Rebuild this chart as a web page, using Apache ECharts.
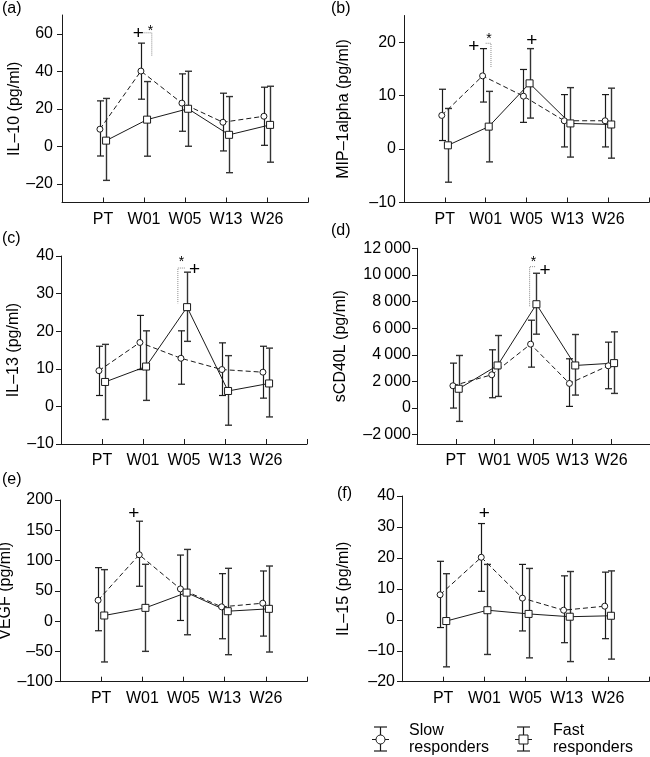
<!DOCTYPE html>
<html><head><meta charset="utf-8">
<script src="https://cdn.jsdelivr.net/npm/echarts@6/dist/echarts.min.js"></script>
<style>html,body{margin:0;padding:0;background:#fff}#c{width:650px;height:757px}</style>
</head><body><div id="c"></div>
<script>
const categories = ['PT', 'W01', 'W05', 'W13', 'W26'];

// (a) IL-10
const il10SlowMean = [9.1, 40.1, 23.0, 12.8, 16.0];
const il10SlowLow  = [-5.2, 25.1, 8.0, -2.5, 0.5];
const il10SlowHigh = [24.2, 55.0, 38.6, 28.3, 31.5];
const il10FastMean = [3.0, 14.2, 20.0, 6.1, 11.4];
const il10FastLow  = [-18.2, -5.3, 0.0, -14.1, -8.5];
const il10FastHigh = [25.5, 34.5, 40.0, 26.5, 32.0];
const il10Ticks = [-20, 0, 20, 40, 60];

// (b) MIP-1alpha
const mipSlowMean = [6.3, 13.7, 9.9, 5.3, 5.3];
const mipSlowLow  = [1.6, 8.8, 5.0, 0.4, 0.4];
const mipSlowHigh = [11.2, 18.8, 14.9, 10.2, 10.2];
const mipFastMean = [0.7, 4.2, 12.3, 4.8, 4.6];
const mipFastLow  = [-6.2, -2.4, 5.8, -1.5, -1.7];
const mipFastHigh = [7.6, 10.8, 18.8, 11.5, 11.4];
const mipTicks = [-10, 0, 10, 20];

// (c) IL-13
const il13SlowMean = [9.5, 17.0, 12.8, 9.8, 9.1];
const il13SlowLow  = [2.9, 9.8, 5.9, 2.9, 2.2];
const il13SlowHigh = [16.0, 24.2, 20.1, 16.9, 16.0];
const il13FastMean = [6.5, 10.6, 26.4, 4.1, 6.1];
const il13FastLow  = [-3.5, 1.6, 17.3, -5.0, -2.8];
const il13FastHigh = [16.5, 20.1, 35.7, 13.5, 15.5];
const il13Ticks = [-10, 0, 10, 20, 30, 40];

// (d) sCD40L
const cd40SlowMean = [1675, 2500, 4800, 1850, 3175];
const cd40SlowLow  = [0, 775, 3075, 125, 1450];
const cd40SlowHigh = [3375, 4375, 6600, 3700, 4950];
const cd40FastMean = [1450, 3200, 7800, 3200, 3375];
const cd40FastLow  = [-1000, 875, 5550, 975, 1100];
const cd40FastHigh = [3950, 5450, 10125, 5525, 5725];
const cd40Ticks = [-2000, 0, 2000, 4000, 6000, 8000, 10000, 12000];

// (e) VEGF
const vegfSlowMean = [34.5, 109.6, 53.2, 23.6, 29.6];
const vegfSlowLow  = [-15.9, 57.6, 1.1, -29.1, -24.7];
const vegfSlowHigh = [88.3, 165.0, 109.1, 78.4, 82.8];
const vegfFastMean = [9.3, 21.9, 47.1, 16.4, 20.3];
const vegfFastLow  = [-67.4, -49.9, -22.5, -55.4, -51.0];
const vegfFastHigh = [85.0, 93.8, 118.4, 87.2, 91.0];
const vegfTicks = [-100, -50, 0, 50, 100, 150, 200];

// (f) IL-15
const il15SlowMean = [8.1, 20.2, 7.0, 3.1, 4.4];
const il15SlowLow  = [-2.5, 9.2, -3.6, -7.4, -6.1];
const il15SlowHigh = [18.9, 31.1, 17.9, 14.2, 15.4];
const il15FastMean = [-0.4, 3.1, 1.9, 1.0, 1.3];
const il15FastLow  = [-15.2, -11.2, -12.3, -13.5, -12.7];
const il15FastHigh = [14.9, 17.9, 16.6, 15.6, 15.8];
const il15Ticks = [-20, -10, 0, 10, 20, 30, 40];

// significance marks: [category, offset, value, text]
const il10Signs = [['W01', -0.14, 60.5, '+'], ['W01', 0.16, 63.5, '*']];
const mipSigns  = [['W01', -0.29, 19.2, '+'], ['W01', 0.08, 21.3, '*'], ['W05', 0.13, 20.3, '+']];
const il13Signs = [['W05', -0.06, 39.3, '*'], ['W05', 0.26, 36.4, '+']];
const cd40Signs = [['W05', 0.0, 11250, '*'], ['W05', 0.3, 10375, '+']];
const vegfSigns = [['W01', -0.21, 178, '+']];
const il15Signs = [['W01', 0.0, 34.4, '+']];
// dotted brackets: [category, [dx, value] ...]
const il10Brackets = [['W01', [-0.01, 60.5], [0.19, 60.5], [0.19, 48]]];
const mipBrackets  = [['W01', [0.0, 19.8], [0.13, 19.8], [0.13, 15.2]]];
const il13Brackets = [['W05', [0.02, 36.8], [-0.15, 36.8], [-0.15, 27.4]]];
const cd40Brackets = [['W05', [0.04, 10620], [-0.1, 10620], [-0.1, 7620]]];

const panels = [
  {label: '(a)', name: 'IL\u201310 (pg/ml)', min: -30, max: 70, ticks: il10Ticks,
   slow: [il10SlowMean, il10SlowLow, il10SlowHigh], fast: [il10FastMean, il10FastLow, il10FastHigh],
   signs: il10Signs, brackets: il10Brackets,
   grid: {left: 62, top: 15, width: 246, height: 187.5}, nameGap: 38, labelMargin: 9, lx: 2, ly: 1},
  {label: '(b)', name: 'MIP\u20131alpha (pg/ml)', min: -10, max: 25, ticks: mipTicks,
   slow: [mipSlowMean, mipSlowLow, mipSlowHigh], fast: [mipFastMean, mipFastLow, mipFastHigh],
   signs: mipSigns, brackets: mipBrackets,
   grid: {left: 404, top: 15.5, width: 245, height: 187}, nameGap: 52, labelMargin: 8, lx: 331, ly: 1},
  {label: '(c)', name: 'IL\u201313 (pg/ml)', min: -10, max: 40, ticks: il13Ticks,
   slow: [il13SlowMean, il13SlowLow, il13SlowHigh], fast: [il13FastMean, il13FastLow, il13FastHigh],
   signs: il13Signs, brackets: il13Brackets,
   grid: {left: 61, top: 256, width: 246, height: 188}, nameGap: 39, labelMargin: 7, lx: 2, ly: 231},
  {label: '(d)', name: 'sCD40L (pg/ml)', min: -2700, max: 12000, ticks: cd40Ticks,
   slow: [cd40SlowMean, cd40SlowLow, cd40SlowHigh], fast: [cd40FastMean, cd40FastLow, cd40FastHigh],
   signs: cd40Signs, brackets: cd40Brackets,
   grid: {left: 417, top: 248.3, width: 233, height: 195.7}, nameGap: 68, labelMargin: 6, lx: 331, ly: 223},
  {label: '(e)', name: 'VEGF (pg/ml)', min: -100, max: 200, ticks: vegfTicks,
   slow: [vegfSlowMean, vegfSlowLow, vegfSlowHigh], fast: [vegfFastMean, vegfFastLow, vegfFastHigh],
   signs: vegfSigns, brackets: [],
   grid: {left: 60, top: 500, width: 247, height: 181.7}, nameGap: 41, labelMargin: 7, lx: 2, ly: 472},
  {label: '(f)', name: 'IL\u201315 (pg/ml)', min: -20, max: 40, ticks: il15Ticks,
   slow: [il15SlowMean, il15SlowLow, il15SlowHigh], fast: [il15FastMean, il15FastLow, il15FastHigh],
   signs: il15Signs, brackets: [],
   grid: {left: 402, top: 496, width: 247, height: 185.7}, nameGap: 50, labelMargin: 7, lx: 337, ly: 486}
];

const FONT = "'Liberation Sans', Arial, Helvetica, sans-serif";
const FS = 16;
const OFF = 0.075;
const INK = '#1a1a1a';

function fmtNum(v) {
  let s = String(Math.abs(v));
  if (Math.abs(v) >= 1000) s = s.replace(/(\d)(?=(\d{3})+$)/g, '$1\u2009');
  return (v < 0 ? '\u2013' : '') + s;
}

const grids = [], xAxes = [], yAxes = [], series = [], graphics = [];

function errSeries(idx, arr, off, color, width) {
  return {
    type: 'custom', xAxisIndex: idx, yAxisIndex: idx, z: 2, silent: true,
    data: arr[0].map((m, i) => [i + 1 + off, arr[1][i], arr[2][i]]),
    renderItem: function (params, api) {
      const x = api.value(0);
      const lo = api.coord([x, api.value(1)]);
      const hi = api.coord([x, api.value(2)]);
      const cx = Math.round(lo[0]) + 0.5;
      const w = 3.5;
      const st = {stroke: color, lineWidth: width, fill: null};
      return {type: 'group', children: [
        {type: 'line', shape: {x1: cx, y1: lo[1], x2: cx, y2: hi[1]}, style: st},
        {type: 'line', shape: {x1: cx - w, y1: lo[1], x2: cx + w, y2: lo[1]}, style: st},
        {type: 'line', shape: {x1: cx - w, y1: hi[1], x2: cx + w, y2: hi[1]}, style: st}
      ]};
    }
  };
}

panels.forEach((p, k) => {
  grids.push(Object.assign({outerBoundsMode: 'none', containLabel: false}, p.grid));
  xAxes.push({
    type: 'value', gridIndex: k, min: 0, max: 6,
    axisLine: {show: true, onZero: false, lineStyle: {color: INK, width: 1}},
    axisTick: {show: true, inside: true, length: 5, lineStyle: {color: INK}, customValues: [1, 2, 3, 4, 5, 6]},
    axisLabel: {show: true, margin: 9, color: '#000', fontFamily: FONT, fontSize: FS,
      customValues: [1, 2, 3, 4, 5], formatter: v => categories[Math.round(v) - 1] || ''},
    splitLine: {show: false}
  });
  yAxes.push({
    type: 'value', gridIndex: k, min: p.min, max: p.max,
    name: p.name, nameLocation: 'middle', nameRotate: 90, nameGap: p.nameGap,
    nameTextStyle: {color: '#000', fontFamily: FONT, fontSize: FS},
    axisLine: {show: true, onZero: false, lineStyle: {color: INK, width: 1}},
    axisTick: {show: true, inside: false, length: 5, lineStyle: {color: INK}, customValues: p.ticks},
    axisLabel: {show: true, margin: p.labelMargin, color: '#000', fontFamily: FONT, fontSize: FS,
      customValues: p.ticks, formatter: v => fmtNum(v)},
    splitLine: {show: false}
  });
  // error bars
  series.push(errSeries(k, p.slow, -OFF, INK, 1.2));
  series.push(errSeries(k, p.fast, OFF, '#333', 1.4));
  // mean lines
  series.push({
    type: 'line', xAxisIndex: k, yAxisIndex: k, z: 3, name: 'Slow responders',
    data: p.slow[0].map((m, i) => [i + 1 - OFF, m]),
    symbol: 'circle', symbolSize: 6, showSymbol: true,
    lineStyle: {color: INK, width: 1, type: [5, 3]},
    itemStyle: {color: '#fff', borderColor: INK, borderWidth: 1}, animation: false
  });
  series.push({
    type: 'line', xAxisIndex: k, yAxisIndex: k, z: 3, name: 'Fast responders',
    data: p.fast[0].map((m, i) => [i + 1 + OFF, m]),
    symbol: 'rect', symbolSize: 7, showSymbol: true,
    lineStyle: {color: INK, width: 1, type: 'solid'},
    itemStyle: {color: '#fff', borderColor: INK, borderWidth: 1}, animation: false
  });
  // significance signs
  if (p.signs.length) {
    series.push({
      type: 'custom', xAxisIndex: k, yAxisIndex: k, z: 5, silent: true,
      data: p.signs.map(s => [categories.indexOf(s[0]) + 1 + s[1], s[2], s[3] === '*' ? 1 : 0]),
      renderItem: function (params, api) {
        const pt = api.coord([api.value(0), api.value(1)]);
        const star = api.value(2) === 1;
        return {type: 'text', x: pt[0], y: star ? pt[1] + 4 : pt[1] + 0.5,
          style: {text: star ? '*' : '+', fill: '#000', fontFamily: FONT,
            fontSize: star ? 14 : 19, fontWeight: 'normal',
            align: 'center', verticalAlign: 'middle'}};
      }
    });
  }
  if (p.brackets.length) {
    series.push({
      type: 'custom', xAxisIndex: k, yAxisIndex: k, z: 1, silent: true,
      data: p.brackets.map(b => {
        const c = categories.indexOf(b[0]) + 1;
        return [c + b[1][0], b[1][1], c + b[2][0], b[2][1], c + b[3][0], b[3][1]];
      }),
      renderItem: function (params, api) {
        const pts = [0, 1, 2].map(j => api.coord([api.value(2 * j), api.value(2 * j + 1)]));
        return {type: 'polyline', shape: {points: pts},
          style: {stroke: '#8a8a8a', lineWidth: 1, lineDash: [1, 1], fill: null}};
      }
    });
  }
  graphics.push({type: 'text', left: p.lx, top: p.ly,
    style: {text: p.label, fill: '#000', font: FS + 'px ' + FONT}});
});

// legend drawn as graphics
function legendIcon(cx, isSlow) {
  const items = [
    {type: 'line', shape: {x1: cx + 0.5, y1: 727, x2: cx + 0.5, y2: 751}, style: {stroke: INK, lineWidth: 1.2}},
    {type: 'line', shape: {x1: cx - 6, y1: 727, x2: cx + 7, y2: 727}, style: {stroke: INK, lineWidth: 1.2}},
    {type: 'line', shape: {x1: cx - 6, y1: 751, x2: cx + 7, y2: 751}, style: {stroke: INK, lineWidth: 1.2}},
    {type: 'line', shape: {x1: cx - 8, y1: 739.5, x2: cx + 9, y2: 739.5},
      style: {stroke: INK, lineWidth: 1}}
  ];
  if (isSlow) items.push({type: 'circle', shape: {cx: cx + 0.5, cy: 739.5, r: 4.5}, style: {fill: '#fff', stroke: INK, lineWidth: 1}});
  else items.push({type: 'rect', shape: {x: cx - 4, y: 735, width: 9, height: 9}, style: {fill: '#fff', stroke: INK, lineWidth: 1}});
  return items;
}
legendIcon(380, true).forEach(g => graphics.push(g));
legendIcon(523, false).forEach(g => graphics.push(g));
graphics.push({type: 'text', left: 409, top: 722, style: {text: 'Slow\nresponders', fill: '#000', font: FS + 'px ' + FONT, lineHeight: 17}});
graphics.push({type: 'text', left: 553, top: 722, style: {text: 'Fast\nresponders', fill: '#000', font: FS + 'px ' + FONT, lineHeight: 17}});

const chart = echarts.init(document.getElementById('c'), null, {renderer: 'canvas'});
chart.setOption({
  animation: false,
  backgroundColor: '#fff',
  textStyle: {fontFamily: FONT},
  grid: grids, xAxis: xAxes, yAxis: yAxes, series: series, graphic: graphics
});
</script></body></html>
